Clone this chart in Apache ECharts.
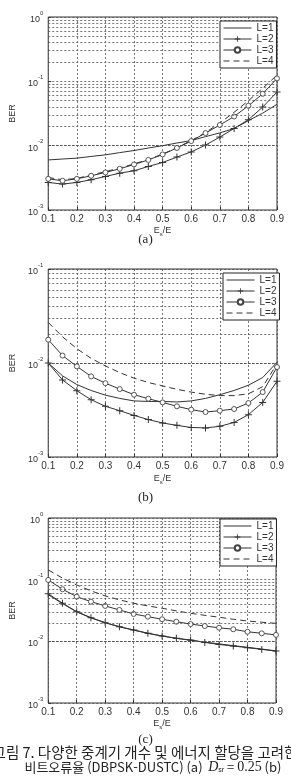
<!DOCTYPE html>
<html lang="ko">
<head>
  <meta charset="UTF-8">
  <title>BER vs Es/E</title>
  <script src="https://cdn.jsdelivr.net/npm/echarts@6/dist/echarts.min.js"></script>
  <style>
    html, body { margin: 0; padding: 0; background: #fff; }
    #chart { width: 291px; height: 776px; }
  </style>
</head>
<body>
<div id="chart"></div>
<script>
  // E_s/E sample points (every 0.05)
  const xs = [0.1, 0.15, 0.2, 0.25, 0.3, 0.35, 0.4, 0.45, 0.5, 0.55, 0.6, 0.65, 0.7, 0.75, 0.8, 0.85, 0.9];
  const seriesNames = ['L=1', 'L=2', 'L=3', 'L=4'];

  // (a)
  const a_L1 = [6.0e-3, 6.2e-3, 6.4e-3, 6.8e-3, 7.2e-3, 7.8e-3, 8.4e-3, 9.2e-3, 1.0e-2, 1.1e-2, 1.2e-2, 1.38e-2, 1.58e-2, 1.85e-2, 2.45e-2, 3.2e-2, 4.4e-2];
  const a_L2 = [2.68e-3, 2.53e-3, 2.68e-3, 2.95e-3, 3.32e-3, 3.74e-3, 4.07e-3, 4.75e-3, 5.48e-3, 6.64e-3, 8.0e-3, 1.02e-2, 1.36e-2, 1.85e-2, 2.53e-2, 3.98e-2, 6.8e-2];
  const a_L3 = [3.05e-3, 2.85e-3, 3.05e-3, 3.4e-3, 3.84e-3, 4.37e-3, 5.1e-3, 6.0e-3, 7.3e-3, 9.2e-3, 1.18e-2, 1.57e-2, 2.09e-2, 2.84e-2, 4.17e-2, 6.4e-2, 0.111];
  const a_L4 = [3.2e-3, 2.95e-3, 3.1e-3, 3.5e-3, 3.95e-3, 4.5e-3, 5.2e-3, 6.1e-3, 7.4e-3, 9.3e-3, 1.2e-2, 1.6e-2, 2.25e-2, 3.3e-2, 5.0e-2, 7.8e-2, 0.125];

  // (b)
  const b_L1 = [1.0e-2, 7.3e-3, 5.9e-3, 5.1e-3, 4.55e-3, 4.2e-3, 3.95e-3, 3.9e-3, 3.9e-3, 3.85e-3, 3.95e-3, 4.2e-3, 4.6e-3, 5.1e-3, 5.8e-3, 7.0e-3, 1.02e-2];
  const b_L2 = [1.0e-2, 6.6e-3, 5.07e-3, 4.07e-3, 3.46e-3, 3.11e-3, 2.77e-3, 2.5e-3, 2.3e-3, 2.17e-3, 2.06e-3, 2.04e-3, 2.12e-3, 2.33e-3, 2.82e-3, 3.81e-3, 6.4e-3];
  const b_L3 = [1.77e-2, 1.2e-2, 9.2e-3, 7.2e-3, 6.1e-3, 5.28e-3, 4.6e-3, 4.17e-3, 3.81e-3, 3.46e-3, 3.19e-3, 3.01e-3, 3.11e-3, 3.24e-3, 3.75e-3, 4.9e-3, 9.05e-3];
  const b_L4 = [2.7e-2, 1.9e-2, 1.42e-2, 1.12e-2, 9.3e-3, 7.9e-3, 6.9e-3, 6.2e-3, 5.7e-3, 5.25e-3, 4.9e-3, 4.65e-3, 4.5e-3, 4.5e-3, 4.7e-3, 5.6e-3, 9.8e-3];

  // (c)
  const c_L1 = [5.7e-2, 4.1e-2, 3.0e-2, 2.4e-2, 2.0e-2, 1.72e-2, 1.52e-2, 1.35e-2, 1.22e-2, 1.12e-2, 1.04e-2, 9.7e-3, 9.1e-3, 8.5e-3, 8.0e-3, 7.5e-3, 7.0e-3];
  const c_L2 = [5.9e-2, 4.15e-2, 3.03e-2, 2.42e-2, 2.01e-2, 1.73e-2, 1.53e-2, 1.35e-2, 1.22e-2, 1.12e-2, 1.05e-2, 9.6e-3, 8.9e-3, 8.4e-3, 7.9e-3, 7.4e-3, 6.95e-3];
  const c_L3 = [9.9e-2, 7.0e-2, 5.3e-2, 4.4e-2, 3.75e-2, 3.23e-2, 2.78e-2, 2.51e-2, 2.28e-2, 2.08e-2, 1.91e-2, 1.77e-2, 1.66e-2, 1.57e-2, 1.43e-2, 1.35e-2, 1.27e-2];
  const c_L4 = [0.144, 0.106, 8.2e-2, 6.6e-2, 5.45e-2, 4.7e-2, 4.15e-2, 3.75e-2, 3.44e-2, 3.12e-2, 2.85e-2, 2.64e-2, 2.46e-2, 2.28e-2, 2.14e-2, 2.04e-2, 1.96e-2];

  // y ranges (log) for each panel
  const yRanges = [[1e-3, 1], [1e-3, 1e-1], [1e-3, 1]];
  const panelData = [[a_L1, a_L2, a_L3, a_L4], [b_L1, b_L2, b_L3, b_L4], [c_L1, c_L2, c_L3, c_L4]];

  const grids = [
    {left: 27, top: 17, width: 250, height: 193},
    {left: 34, top: 269, width: 243, height: 188},
    {left: 34, top: 518, width: 242, height: 185}
  ];
  const yNameGaps = [21, 25, 23];
  const xNameGaps = [13, 16, 14];
  const legendPos = [[220, 21], [223, 273], [220, 519]];

  const ink = '#333';
  const gridDot = {color: '#555', width: 0.8, type: [2, 2]};
  const plusPath = 'path://M0,6 H14 V8 H0 Z M6,0 H8 V14 H6 Z';

  // minor log grid lines: 2..9 of every decade
  function minorLines(range) {
    let out = [];
    for (let e = Math.round(Math.log10(range[0])); e < Math.round(Math.log10(range[1])); e++) {
      for (let k = 2; k <= 9; k++) {
        out.push({yAxis: k * Math.pow(10, e)});
      }
    }
    return out;
  }

  let xAxes = [], yAxes = [], series = [], legends = [];
  for (let g = 0; g < 3; g++) {
    xAxes.push({
      type: 'value', gridIndex: g, min: 0.1, max: 0.9, interval: 0.1,
      name: 'E{s|s}/E', nameLocation: 'middle', nameGap: xNameGaps[g],
      nameTextStyle: {
        color: ink, fontSize: 9, fontFamily: 'Liberation Sans', lineHeight: 12,
        rich: {s: {fontSize: 6, lineHeight: 12, verticalAlign: 'bottom', padding: [5, 0, 0, 0], color: ink}}
      },
      axisLine: {show: false},
      axisTick: {show: true, inside: true, length: 3, lineStyle: {color: ink}},
      axisLabel: {
        color: ink, fontSize: 10, fontFamily: 'Liberation Sans', margin: 4,
        formatter: v => v.toFixed(1)
      },
      splitLine: {show: true, lineStyle: gridDot}
    });
    yAxes.push({
      type: 'log', logBase: 10, gridIndex: g, min: yRanges[g][0], max: yRanges[g][1],
      name: 'BER', nameLocation: 'middle', nameGap: yNameGaps[g], nameRotate: 90,
      nameTextStyle: {color: ink, fontSize: 9, fontFamily: 'Liberation Sans'},
      axisLine: {show: false},
      axisTick: {show: true, inside: true, length: 3, lineStyle: {color: ink}},
      axisLabel: {
        fontFamily: 'Liberation Sans', margin: 5,
        formatter: v => '{b|10}{e|' + Math.round(Math.log10(v)) + '}',
        rich: {
          b: {fontSize: 9, color: ink, lineHeight: 14, verticalAlign: 'bottom'},
          e: {fontSize: 6, color: ink, lineHeight: 14, verticalAlign: 'top'}
        }
      },
      splitLine: {show: true, lineStyle: gridDot}
    });

    const d = panelData[g];
    for (let s = 0; s < 4; s++) {
      let ser = {
        name: seriesNames[s], type: 'line', xAxisIndex: g, yAxisIndex: g,
        data: xs.map((x, i) => [x, d[s][i]]),
        lineStyle: {color: ink, width: 1},
        itemStyle: {color: ink},
        symbol: 'none', symbolSize: 5, showSymbol: true,
        animation: false, z: 3
      };
      if (s === 1) { ser.symbol = plusPath; ser.symbolSize = 7; }
      if (s === 2) {
        ser.symbol = 'circle'; ser.symbolSize = 5;
        ser.itemStyle = {color: '#fff', borderColor: '#444', borderWidth: 0.9};
      }
      if (s === 3) { ser.lineStyle = {color: ink, width: 1, type: [6, 4]}; }
      if (s === 0) {
        ser.markLine = {
          silent: true, symbol: 'none', animation: false,
          label: {show: false},
          lineStyle: gridDot,
          data: minorLines(yRanges[g])
        };
      }
      series.push(ser);
    }

    legends.push({
      data: [
        {name: 'L=1', itemStyle: {opacity: 0}},
        'L=2',
        'L=3',
        {name: 'L=4', itemStyle: {opacity: 0}}
      ],
      orient: 'vertical', align: 'left',
      left: legendPos[g][0], top: legendPos[g][1],
      itemWidth: 28, itemHeight: 7, itemGap: 1,
      padding: [2, 3, 2, 3],
      lineStyle: {width: 1},
      backgroundColor: '#fff', borderColor: '#222', borderWidth: 1,
      textStyle: {color: ink, fontSize: 10, fontFamily: 'Liberation Sans'},
      selectedMode: false, z: 10
    });
  }

  const chart = echarts.init(document.getElementById('chart'));
  chart.setOption({
    animation: false,
    backgroundColor: '#fff',
    grid: grids.map(gr => Object.assign({show: true, borderColor: '#333', borderWidth: 1, backgroundColor: '#fff'}, gr)),
    xAxis: xAxes,
    yAxis: yAxes,
    legend: legends,
    series: series,
    graphic: [
      {type: 'text', left: 'center', top: 233, style: {text: '(a)', fontSize: 13, fontFamily: 'Liberation Serif', fill: '#222'}},
      {type: 'text', left: 'center', top: 491, style: {text: '(b)', fontSize: 13, fontFamily: 'Liberation Serif', fill: '#222'}},
      {type: 'text', left: 'center', top: 733, style: {text: '(c)', fontSize: 13, fontFamily: 'Liberation Serif', fill: '#222'}},
      {type: 'text', x: 145, y: 745, style: {
        text: '그림 7. 다양한 중계기 개수 및 에너지 할당을 고려한', align: 'center',
        fontSize: 14.5, fontFamily: 'Noto Sans CJK KR', fill: '#222'
      }},
      {type: 'text', x: 153, y: 760, style: {
        text: '비트오류율 (DBPSK-DUSTC) (a)  {it|D}{sub|sr} = {n|0.25} (b)', align: 'center',
        fontSize: 13, fontFamily: 'Noto Sans CJK KR', fill: '#222',
        rich: {
          it: {fontFamily: 'Liberation Serif', fontStyle: 'italic', fontSize: 14, fill: '#222'},
          sub: {fontSize: 7, padding: [6, 0, 0, 0], fill: '#222'},
          n: {fontFamily: 'Liberation Serif', fontSize: 14, fill: '#222'}
        }
      }}
    ]
  });
</script>
</body>
</html>
